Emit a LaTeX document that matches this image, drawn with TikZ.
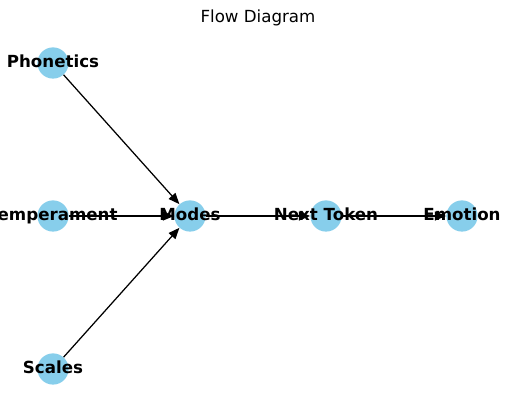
\documentclass[tikz,border=0pt]{standalone}
\usepackage{fontspec}
\setmainfont{DejaVu Sans}
\usetikzlibrary{arrows.meta}

\definecolor{skyblue}{HTML}{87CEEB}
\tikzset{
  bubble/.style={circle,fill=skyblue,minimum size=22.5pt,inner sep=0pt},
  tag/.style={font=\fontsize{12}{14}\selectfont\bfseries,inner sep=0pt,text height=9pt,text depth=2.5pt},
  link/.style={-{Triangle[length=8pt,width=6.4pt]},line width=0.9pt}
}

\begin{document}
\begin{tikzpicture}[x=0.72pt,y=-0.72pt]
  \useasboundingbox (0,0) rectangle (515,411);
  \clip (0,0) rectangle (515,411);

  \node[font=\fontsize{12}{14}\selectfont] (title) at (258,18) {Flow Diagram};

  % nodes
  \node[bubble] (p) at (53,63) {};
  \node[bubble] (t) at (53,216) {};
  \node[bubble] (s) at (53,369) {};
  \node[bubble] (m) at (190,216) {};
  \node[bubble] (n) at (326,216) {};
  \node[bubble] (e) at (462,216) {};

  % edges
  \draw[link] (p) -- (m);
  \draw[link] (t) -- (m);
  \draw[link] (s) -- (m);
  \draw[link] (m) -- (n);
  \draw[link] (n) -- (e);

  % labels on top
  \node[tag] (pl) at (p) {Phonetics};
  \node[tag] (tl) at (t) {Temperament};
  \node[tag] (sl) at (s) {Scales};
  \node[tag] (ml) at (m) {Modes};
  \node[tag] (nl) at (n) {Next Token};
  \node[tag] (el) at (e) {Emotion};
\end{tikzpicture}
\end{document}
